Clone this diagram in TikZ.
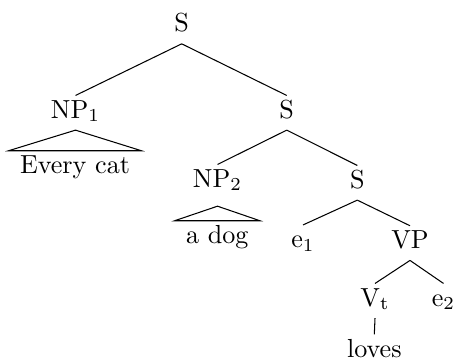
\documentclass[tikz,border=0pt]{standalone}
\usepackage{amsmath}

\begin{document}
\begin{tikzpicture}[x=0.383pt, y=-0.383pt,
  every node/.style={anchor=base, inner sep=1.44pt, text height=7pt, text depth=3pt},
  roof/.style={inner xsep=4.2pt}]
\useasboundingbox (0,0) rectangle (456,362);
% tree nodes
\node (s0) at (181.7,31.7) {S};
\node (np1) at (75.5,118) {NP$_1$};
\node (s1) at (286.7,118) {S};
\node (np2) at (217.5,187) {NP$_2$};
\node (s2) at (357.3,188) {S};
\node (e1) at (303,247.5) {e$_1$};
\node (vp) at (410,248.3) {VP};
\node (vt) at (375,306) {V$_{\mathrm{t}}$};
\node (e2) at (443.5,306) {e$_2$};
% leaves
\node[roof] (every) at (75,173.3) {Every cat};
\node[roof] (adog) at (217.3,243.3) {a dog};
\node (loves) at (374.3,357) {loves};
% branches
\draw (s0.south) -- (np1.north);
\draw (s0.south) -- (s1.north);
\draw (s1.south) -- (np2.north);
\draw (s1.south) -- (s2.north);
\draw (s2.south) -- (e1.north);
\draw (s2.south) -- (vp.north);
\draw (vp.south) -- (vt.north);
\draw (vp.south) -- (e2.north);
\draw (vt.south) -- (loves.north);
% roofs
\draw (np1.south) -- (every.north west) -- (every.north east) -- cycle;
\draw ([yshift=-2.7pt]np2.south) -- (adog.north west) -- (adog.north east) -- cycle;
\end{tikzpicture}
\end{document}
